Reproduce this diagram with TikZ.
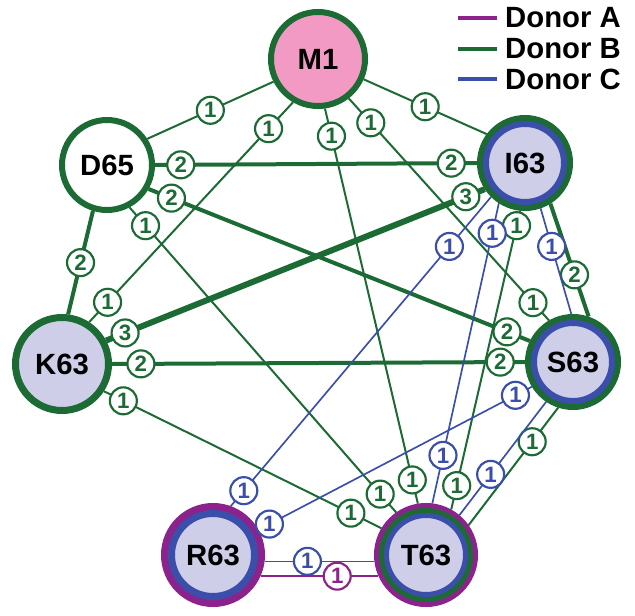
\documentclass[tikz,border=0pt]{standalone}
\usepackage{fontspec}
\setmainfont{Liberation Sans}
\definecolor{dgreen}{RGB}{28,106,52}
\definecolor{dblue}{RGB}{58,78,170}
\definecolor{dpurple}{RGB}{140,35,140}
\definecolor{pink}{RGB}{243,154,196}
\definecolor{lav}{RGB}{206,206,232}

\begin{document}
\begin{tikzpicture}[x=0.3mm, y=-0.3mm,
    N/.style = {circle, inner sep=0pt, fill=lav,% donor circles
                font=\bfseries\fontsize{25}{30}\selectfont},
   NG/.style = {N, draw=dgreen, line width=1.8mm},
  NGB/.style = {N, draw=dblue, line width=1.8mm, minimum size=23.4mm,
                preaction={draw=dgreen, line width=5.4mm}, outer sep=2.7mm},
  NPB/.style = {N, draw=dblue, line width=2.1mm, minimum size=24.9mm,
                preaction={draw=dpurple, line width=6.3mm}, outer sep=3.15mm},
 NPGB/.style = {N, draw=dblue, line width=1.5mm, minimum size=23.7mm,
                preaction={draw=dpurple, line width=7.5mm},
                preaction={draw=dgreen, line width=4.5mm}, outer sep=3.75mm},
    L/.style = {circle, fill=white, inner sep=0pt,% link counts
                minimum size=8.1mm, line width=0.65mm,
                font=\bfseries\fontsize{19}{19}\selectfont},
   gl/.style = {L, draw=dgreen, text=dgreen},
   bl/.style = {L, draw=dblue, text=dblue},
   pl/.style = {L, draw=dpurple, text=dpurple},
   g1/.style = {dgreen, line width=0.6mm},
   g2/.style = {dgreen, line width=1.2mm},
   g3/.style = {dgreen, line width=1.8mm},
   b1/.style = {dblue, line width=0.5mm},
   p1/.style = {dpurple, line width=0.55mm},
    T/.style = {anchor=west, inner sep=2.4mm,% legend
                font=\bfseries\fontsize{25}{30}\selectfont},
                        ]
\useasboundingbox (0,0) rectangle (635,616);
\node (M1)  [NG, fill=pink, minimum size=28.2mm] at (318,59) {M1};
\node (D65) [NG, fill=white, minimum size=27mm] at (107,165) {D65};
\node (K63) [NG, line width=2.1mm, minimum size=27.9mm] at (62,364) {K63};
\node (I63) [NGB] at (525,163) {I63};
\node (S63) [NGB] at (573,362) {S63};
\node (R63) [NPB] at (213,555) {R63};
\node (T63) [NPGB] at (426,555) {T63};
% donor B, single links
\draw[g1] (M1.207) -- node[gl] {1} (D65.33);
\draw[g1] (M1.336) -- node[gl] {1} (I63.143);
\draw[g1] (M1.240) -- node[gl,pos=.12] {1} node[gl,pos=.91] {1} (K63.57);
\draw[g1] (M1.278) -- node[gl,pos=.07] {1} node[gl,pos=.94] {1} (T63.99);
\draw[g1] (M1.308) -- node[gl,pos=.11] {1} node[gl,pos=.92] {1} (S63.120);
\draw[g1] (D65.298) -- node[gl,pos=.06] {1} node[gl,pos=.94] {1} (T63.125);
\draw[g1] (K63.327) -- node[gl,pos=.07] {1} node[gl,pos=.89] {1} (T63.149);
\draw[g1] (I63.264) -- node[gl,pos=.05] {1} node[gl,pos=.92] {1} (T63.61);
\draw[g1] (S63.252) -- node[gl,pos=.29] {1} (T63.35);
% donor B, double and triple links
\draw[g2] (D65.0) -- node[gl,pos=.08] {2} node[gl,pos=.92] {2} (I63.180);
\draw[g2] (D65.330) -- node[gl,pos=.06] {2} node[gl,pos=.94] {2} (S63.154);
\draw[g2] (D65.253) -- node[gl] {2} (K63.83);
\draw[g2] (K63.0) -- node[gl,pos=.07] {2} node[gl,pos=.94] {2} (S63.180);
\draw[g2] (I63.302) -- node[gl,pos=.63] {2} (S63.71);
\draw[g3] (K63.28) -- node[gl,pos=.05] {3} node[gl,pos=.95] {3} (I63.213);
% donor C
\draw[b1] (I63.237) -- node[bl,pos=.10] {1} node[bl,pos=.84] {1} (T63.83);
\draw[b1] (I63.225) -- node[bl,pos=.16] {1} node[bl,pos=.95] {1} (R63.70);
\draw[b1] (S63.211) -- node[bl,pos=.06] {1} node[bl,pos=.96] {1} (R63.29);
\draw[b1] (I63.289) -- node[bl,pos=.36] {1} (S63.92);
\draw[b1] (S63.236) -- node[bl,pos=.64] {1} (T63.50);
\draw[b1] (R63.-7) -- node[bl,pos=.39] {1} (T63.187);
% donor A
\draw[p1] (R63.-24) -- node[pl,pos=.65] {1} (T63.204);
% legend
\node (DA) [T] at (497,18) {Donor A};
\node (DB) [T] at (497,49) {Donor B};
\node (DC) [T] at (497,79) {Donor C};
\coordinate (da) at (458,18);
\coordinate (db) at (458,49);
\coordinate (dc) at (458,79);
\draw[dpurple, line width=1.2mm] (da) -- (DA.west);
\draw[dgreen, line width=1.2mm] (db) -- (DB.west);
\draw[dblue, line width=1.2mm] (dc) -- (DC.west);
\end{tikzpicture}
\end{document}
